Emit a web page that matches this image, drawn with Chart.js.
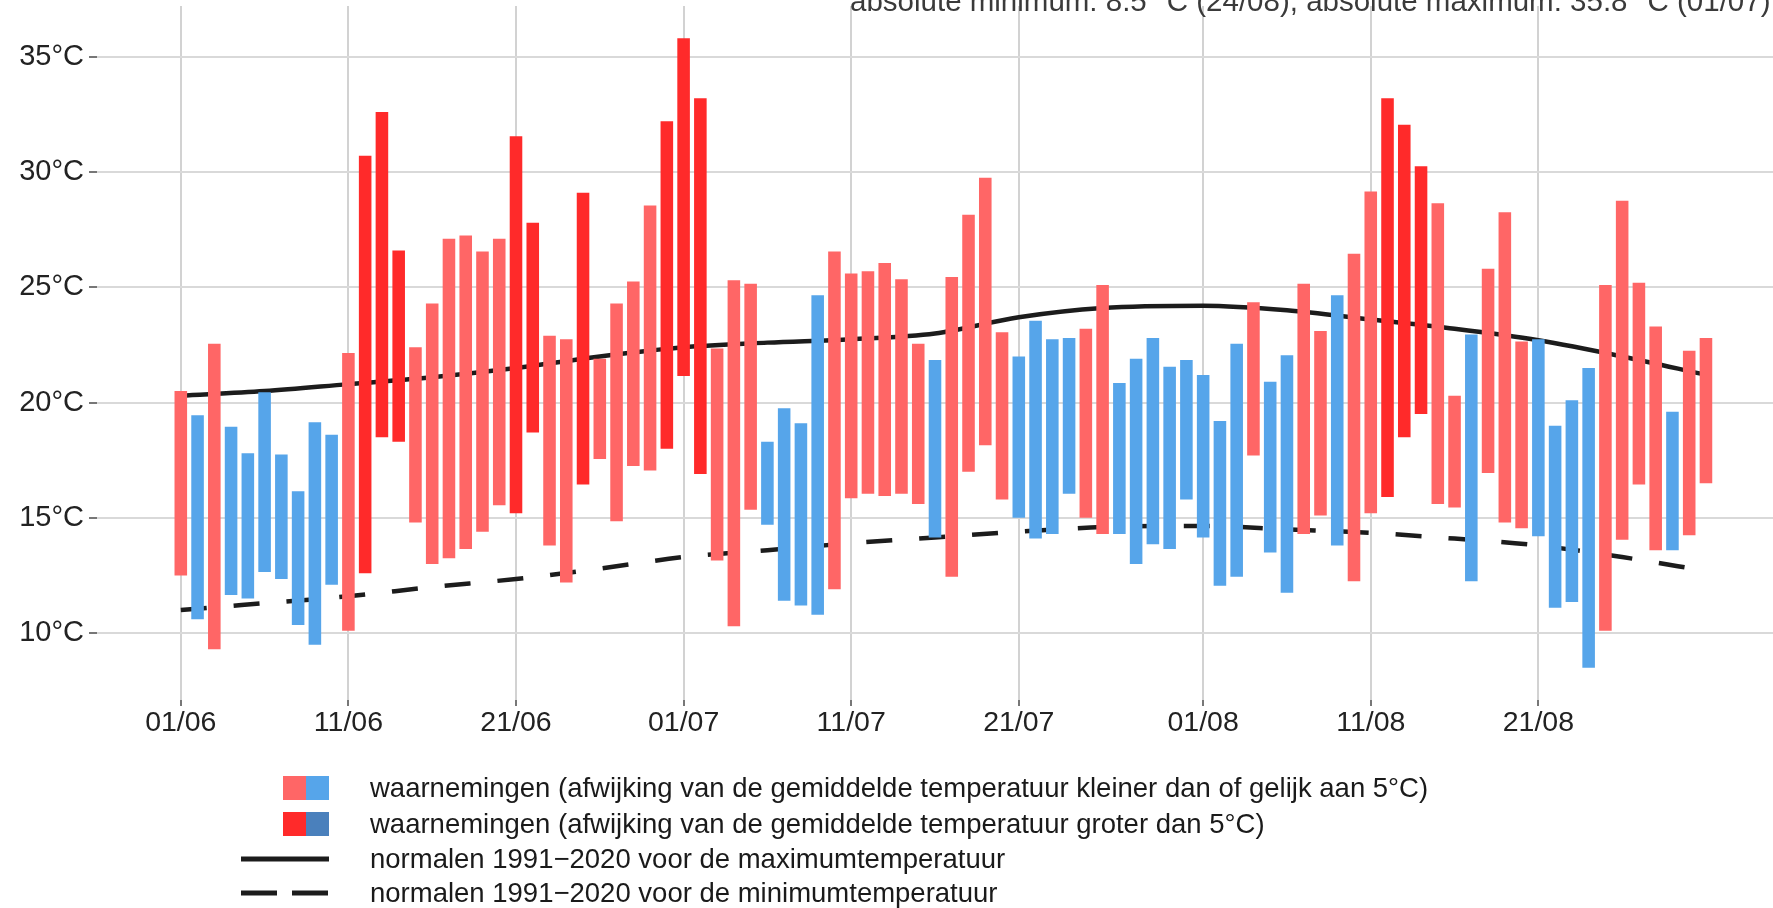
<!DOCTYPE html>
<html><head><meta charset="utf-8">
<script src="https://cdn.jsdelivr.net/npm/chart.js@4.4.1/dist/chart.umd.min.js"></script>
<style>
html,body{margin:0;padding:0;background:#fff;}
#wrap{position:relative;width:1773px;height:908px;overflow:hidden;background:#fff;}
#c{position:absolute;left:0;top:-40px;}
</style></head><body>
<div id="wrap"><canvas id="c" width="1773" height="948"></canvas></div>
<script>
// ---- data ----
const dates = [
 '01/06','02/06','03/06','04/06','05/06','06/06','07/06','08/06','09/06','10/06',
 '11/06','12/06','13/06','14/06','15/06','16/06','17/06','18/06','19/06','20/06',
 '21/06','22/06','23/06','24/06','25/06','26/06','27/06','28/06','29/06','30/06',
 '01/07','02/07','03/07','04/07','05/07','06/07','07/07','08/07','09/07','10/07',
 '11/07','12/07','13/07','14/07','15/07','16/07','17/07','18/07','19/07','20/07',
 '21/07','22/07','23/07','24/07','25/07','26/07','27/07','28/07','29/07','30/07','31/07',
 '01/08','02/08','03/08','04/08','05/08','06/08','07/08','08/08','09/08','10/08',
 '11/08','12/08','13/08','14/08','15/08','16/08','17/08','18/08','19/08','20/08',
 '21/08','22/08','23/08','24/08','25/08','26/08','27/08','28/08','29/08','30/08','31/08'
];
const tmin = [
 12.5, 10.6, 9.3, 11.65, 11.5, 12.65, 12.35, 10.35, 9.5, 12.1,
 10.1, 12.6, 18.5, 18.3, 14.8, 13.0, 13.25, 13.65, 14.4, 15.55,
 15.2, 18.7, 13.8, 12.2, 16.45, 17.55, 14.85, 17.25, 17.05, 18.0,
 21.15, 16.9, 13.15, 10.3, 15.35, 14.7, 11.4, 11.2, 10.8, 11.9,
 15.85, 16.05, 15.95, 16.05, 15.6, 14.15, 12.45, 17.0, 18.15, 15.8,
 15.0, 14.1, 14.3, 16.05, 15.0, 14.3, 14.3, 13.0, 13.85, 13.65,
 15.8, 14.15, 12.05, 12.45, 17.7, 13.5, 11.75, 14.3, 15.1, 13.8,
 12.25, 15.2, 15.9, 18.5, 19.5, 15.6, 15.45, 12.25, 16.95, 14.8,
 14.55, 14.2, 11.1, 11.35, 8.5, 10.1, 14.05, 16.45, 13.6, 13.6,
 14.25, 16.5
];
const tmax = [
 20.5, 19.45, 22.55, 18.95, 17.8, 20.45, 17.75, 16.15, 19.15, 18.6,
 22.15, 30.7, 32.6, 26.6, 22.4, 24.3, 27.1, 27.25, 26.55, 27.1,
 31.55, 27.8, 22.9, 22.75, 29.1, 21.9, 24.3, 25.25, 28.55, 32.2,
 35.8, 33.2, 22.35, 25.3, 25.15, 18.3, 19.75, 19.1, 24.65, 26.55,
 25.6, 25.7, 26.05, 25.35, 22.55, 21.85, 25.45, 28.15, 29.75, 23.05,
 22.0, 23.55, 22.75, 22.8, 23.2, 25.1, 20.85, 21.9, 22.8, 21.55,
 21.85, 21.2, 19.2, 22.55, 24.35, 20.9, 22.05, 25.15, 23.1, 24.65,
 26.45, 29.15, 33.2, 32.05, 30.25, 28.65, 20.3, 22.95, 25.8, 28.25,
 22.65, 22.75, 19.0, 20.1, 21.5, 25.1, 28.75, 25.2, 23.3, 19.6,
 22.25, 22.8
];
// l = warmer (<= 5°C), d = warmer (> 5°C), b = colder (<= 5°C)
const anomalyClass = [
 'l','b','l','b','b','b','b','b','b','b',
 'l','d','d','d','l','l','l','l','l','l',
 'd','d','l','l','d','l','l','l','l','d',
 'd','d','l','l','l','b','b','b','b','l',
 'l','l','l','l','l','b','l','l','l','l',
 'b','b','b','b','l','l','b','b','b','b',
 'b','b','b','b','l','b','b','l','l','b',
 'l','l','d','d','d','l','l','b','l','l',
 'l','b','b','b','b','l','l','l','l','b',
 'l','l'
];
const normDates = ['01/06','06/06','11/06','16/06','21/06','26/06','01/07','06/07','11/07','16/07','21/07','26/07','01/08','06/08','11/08','16/08','21/08','26/08','31/08'];
const normMax = [20.3, 20.5, 20.8, 21.1, 21.5, 22.0, 22.4, 22.6, 22.75, 23.0, 23.7, 24.1, 24.2, 24.0, 23.6, 23.2, 22.7, 22.0, 21.2];
const normMin = [11.0, 11.3, 11.6, 12.0, 12.35, 12.8, 13.3, 13.6, 13.9, 14.15, 14.4, 14.6, 14.65, 14.5, 14.35, 14.1, 13.8, 13.3, 12.7];
const tickLabels = ['01/06','11/06','21/06','01/07','11/07','21/07','01/08','11/08','21/08'];
const yTicks = [10, 15, 20, 25, 30, 35];
const titleText = 'absolute minimum: 8.5 °C (24/08), absolute maximum: 35.8 °C (01/07)';
const legendLabels = [
 'waarnemingen (afwijking van de gemiddelde temperatuur kleiner dan of gelijk aan 5°C)',
 'waarnemingen (afwijking van de gemiddelde temperatuur groter dan 5°C)',
 'normalen 1991−2020 voor de maximumtemperatuur',
 'normalen 1991−2020 voor de minimumtemperatuur'
];

// ---- styles ----
const COLORS = { l: '#FF6666', d: '#FF2A2A', b: '#56A5EA' };
const DARK_BLUE = '#4A80BC';
const LINE_COLOR = '#1c1c1c';
const FONT = '"Liberation Sans", Arial, Helvetica, sans-serif';
const OFF = 40; // canvas shifted up by this amount

const tickDays = tickLabels.map(l => dates.indexOf(l));

const overlay = {
  id: 'overlay',
  afterDraw(chart) {
    const ctx = chart.ctx;
    ctx.save();
    // cut-off title at top
    ctx.fillStyle = '#3a3a3a';
    ctx.font = '29.5px ' + FONT;
    ctx.textAlign = 'left';
    ctx.textBaseline = 'alphabetic';
    ctx.fillText(titleText, 850, OFF + 11);
    // legend
    const rows = [788, 824, 859, 893].map(y => y + OFF);
    const keyPairs = [[COLORS.l, COLORS.b], [COLORS.d, DARK_BLUE]];
    keyPairs.forEach((p, i) => {
      ctx.fillStyle = p[0];
      ctx.fillRect(283, rows[i] - 12, 23, 24);
      ctx.fillStyle = p[1];
      ctx.fillRect(306, rows[i] - 12, 23, 24);
    });
    ctx.strokeStyle = LINE_COLOR;
    ctx.lineWidth = 5;
    ctx.lineCap = 'butt';
    ctx.beginPath();
    ctx.moveTo(241, rows[2]); ctx.lineTo(329, rows[2]);
    ctx.stroke();
    ctx.setLineDash([36, 15]);
    ctx.beginPath();
    ctx.moveTo(241, rows[3]); ctx.lineTo(329, rows[3]);
    ctx.stroke();
    ctx.setLineDash([]);
    ctx.fillStyle = '#1a1a1a';
    ctx.font = '27.5px ' + FONT;
    ctx.textBaseline = 'middle';
    legendLabels.forEach((t, i) => ctx.fillText(t, 370, rows[i] + 1));
    ctx.restore();
  }
};

const barData = dates.map((d, i) => ({ x: i, y: [tmin[i], tmax[i]] }));
const maxLine = normDates.map((d, k) => ({ x: dates.indexOf(d), y: normMax[k] }));
const minLine = normDates.map((d, k) => ({ x: dates.indexOf(d), y: normMin[k] }));

new Chart(document.getElementById('c'), {
  type: 'bar',
  data: {
    datasets: [
      {
        type: 'bar',
        label: 'waarnemingen',
        data: barData,
        backgroundColor: anomalyClass.map(c => COLORS[c]),
        borderWidth: 0,
        barPercentage: 0.75,
        categoryPercentage: 1.0,
        order: 0
      },
      {
        type: 'line',
        label: 'normalen max',
        data: maxLine,
        borderColor: LINE_COLOR,
        borderWidth: 4.5,
        pointRadius: 0,
        fill: false,
        cubicInterpolationMode: 'monotone',
        order: 1
      },
      {
        type: 'line',
        label: 'normalen min',
        data: minLine,
        borderColor: LINE_COLOR,
        borderWidth: 4.5,
        borderDash: [26, 27],
        pointRadius: 0,
        fill: false,
        cubicInterpolationMode: 'monotone',
        order: 2
      }
    ]
  },
  options: {
    responsive: false,
    animation: false,
    devicePixelRatio: 1,
    layout: { padding: { top: OFF + 6, left: 0, right: 0, bottom: 168 } },
    plugins: { legend: { display: false }, tooltip: { enabled: false }, title: { display: false } },
    scales: {
      x: {
        type: 'linear',
        min: -5,
        max: 95,
        offset: false,
        afterBuildTicks: s => { s.ticks = tickDays.map(v => ({ value: v })); },
        afterFit: s => { s.height = 40; },
        ticks: {
          autoSkip: false,
          maxRotation: 0,
          padding: 0,
          color: '#222',
          font: { family: FONT, size: 28.5 },
          callback: v => dates[v]
        },
        grid: { offset: false, color: '#d2d2d2', lineWidth: 2, drawTicks: true, tickLength: 6, tickColor: '#777' },
        border: { display: false }
      },
      y: {
        min: 7.1,
        max: 37.2,
        afterBuildTicks: s => { s.ticks = yTicks.map(v => ({ value: v })); },
        afterFit: s => { s.width = 97; },
        ticks: {
          padding: 5,
          color: '#222',
          font: { family: FONT, size: 29 },
          callback: v => v + '°C'
        },
        grid: { color: '#d9d9d9', lineWidth: 2, drawTicks: true, tickLength: 8, tickColor: '#777' },
        border: { display: false }
      }
    }
  },
  plugins: [overlay]
});
</script>
</body></html>
